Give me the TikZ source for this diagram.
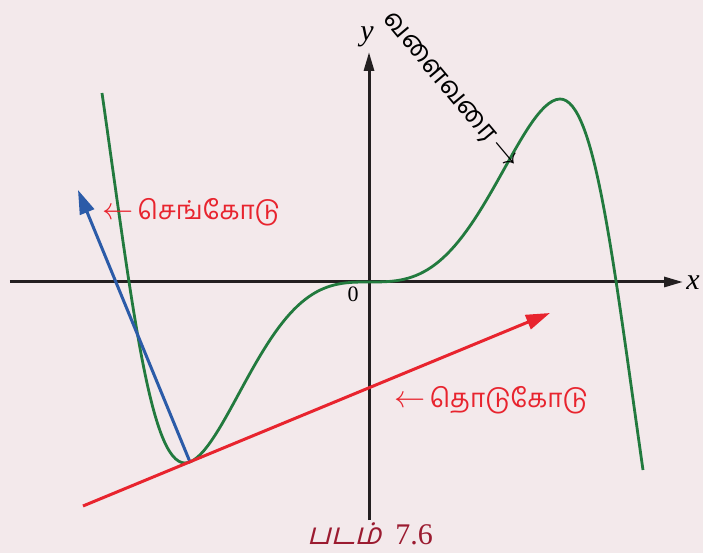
\documentclass[tikz,border=0pt]{standalone}
\usepackage{fontspec}
\setmainfont{Liberation Serif}
\newfontfamily\tamil[Script=Tamil]{Hind Madurai}
\newfontfamily\tamilsl[Script=Tamil,FakeSlant=0.25]{Hind Madurai}
\usetikzlibrary{arrows.meta}
\definecolor{bgpink}{RGB}{243,233,235}
\definecolor{curvegreen}{RGB}{34,122,62}
\definecolor{tanred}{RGB}{232,36,46}
\definecolor{nrmblue}{RGB}{43,91,168}
\definecolor{capred}{RGB}{155,27,48}
\definecolor{axisblack}{RGB}{35,31,32}
\newcommand{\lar}{\scalebox{1.25}{$\leftarrow$}}
\newcommand{\rar}{\scalebox{1.25}{$\rightarrow$}}

\begin{document}
\begin{tikzpicture}[x=1pt,y=1pt,
 axis/.style={line width=3pt,draw=axisblack,-{Triangle[length=19pt,width=10pt]}},
 crv/.style={line width=2.8pt,draw=curvegreen},
 ln/.style={line width=3pt,-{Triangle[length=24pt,width=15pt]}},
 lbl/.style={font=\tamil\fontsize{26}{30}\selectfont,inner sep=0pt},
 axlbl/.style={font=\fontsize{30}{32}\selectfont\itshape,inner sep=0pt}]
\fill[bgpink] (-369,-271) rectangle (334,282);
\useasboundingbox (-369,-271) rectangle (334,282);
\coordinate (O) at (0,0);
\coordinate (xa) at (-359,0); \coordinate (xb) at (314,0);
\coordinate (ya) at (0,-238); \coordinate (yb) at (0,230);
\draw[axis] (xa)--(xb);
\draw[axis] (ya)--(yb);
\node[axlbl] (xl) at (324,-1) {x};
\node[axlbl] (yl) at (-2,245) {y};
\node[font=\fontsize{22}{24}\selectfont,inner sep=0pt] (zero) at (-16,-12) {0};
\draw[crv] (-267,189) .. controls (-237,-21) and (-219,-181) .. (-184,-181)
  -- plot[domain=-184:0,samples=50] (\x,{181*(\x/238)*(\x/238)*(\x/238)*(1-(\x/238)*(\x/238))/0.1859})
  -- plot[domain=0:191,samples=50] (\x,{183*(\x/247)*(\x/247)*(\x/247)*(1-(\x/247)*(\x/247))/0.1859})
  .. controls (226,183) and (244,22) .. (274,-188);
\coordinate (P) at (-179,-180);
\coordinate (tl) at (-286,-224); \coordinate (tr) at (181,-31);
\coordinate (nr) at (-291,92);
\draw[ln,nrmblue] (P)--(nr);
\draw[ln,tanred] (tl)--(tr);
\node[lbl,text=tanred] (nrmlbl) at (-178,70) {\lar\,செங்கோடு};
\node[lbl,text=tanred] (tanlbl) at (122,-118) {\lar\,தொடுகோடு};
\node[lbl,font=\tamil\fontsize{27}{31}\selectfont,rotate=-50] (crvlbl) at (81,190) {வளைவரை\,\rar};
\node[font=\fontsize{30}{34}\selectfont,text=capred,inner sep=0pt] (cap) at (1,-252) {{\tamilsl படம்}\hspace{14pt}7.6};
\end{tikzpicture}
\end{document}
